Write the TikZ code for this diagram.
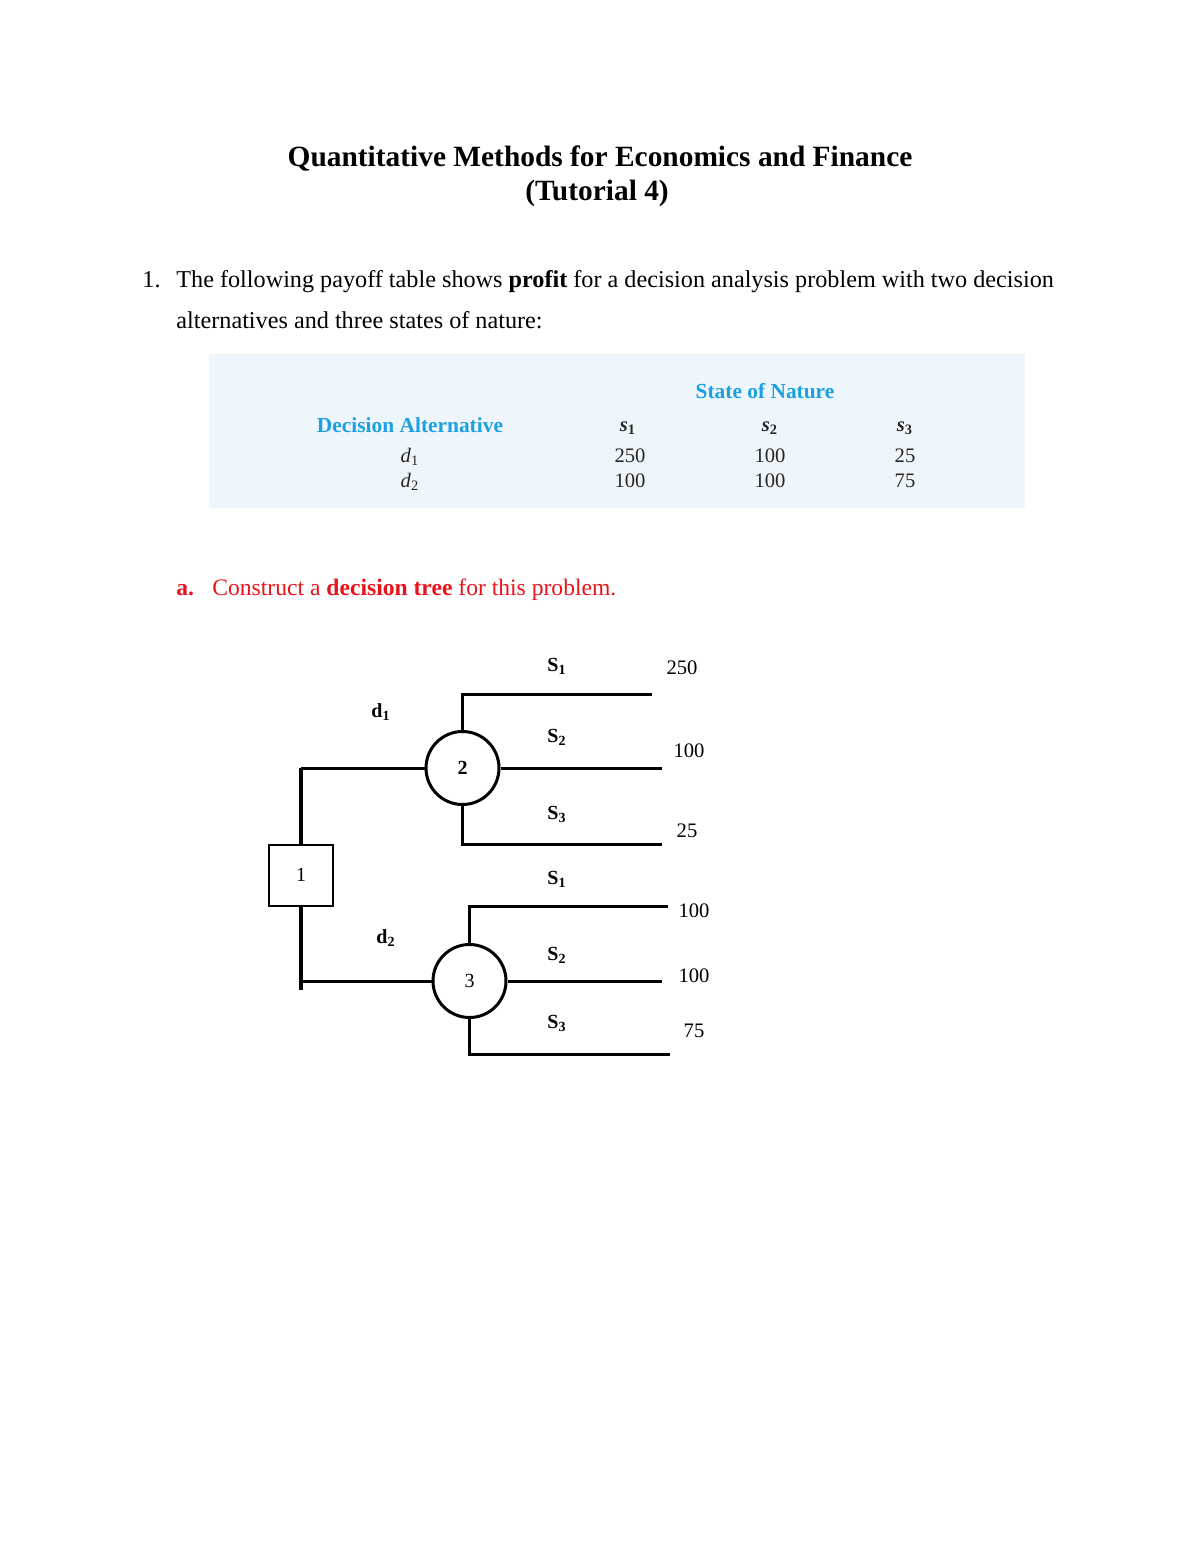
\documentclass[tikz,border=0pt]{standalone}
\usepackage{fontspec}
\setmainfont{Liberation Serif}
\definecolor{tblbg}{HTML}{EEF6FC}
\definecolor{tblblue}{HTML}{1BA1E2}
\definecolor{redtxt}{HTML}{E8141B}
\begin{document}
\begin{tikzpicture}[x=0.5pt,y=-0.5pt,
  title/.style={font=\fontsize{14.7}{17}\selectfont\bfseries},
  body/.style={font=\fontsize{12.1}{14}\selectfont, anchor=base west, inner sep=0pt},
  thead/.style={font=\fontsize{10.7}{12}\selectfont\bfseries, text=tblblue},
  tcell/.style={font=\fontsize{10.3}{12}\selectfont, text=black!85},
  tl/.style={line width=1.5pt},
  lab/.style={font=\fontsize{10}{12}\selectfont\bfseries},
  val/.style={font=\fontsize{10.3}{12}\selectfont},
  chance/.style={circle, draw, line width=1.5pt, minimum size=36.5pt, inner sep=0pt, font=\fontsize{10}{12}\selectfont},
  decbox/.style={rectangle, draw, line width=1pt, minimum width=32pt, minimum height=30.5pt, inner sep=0pt, font=\fontsize{10}{12}\selectfont}
]
\path[use as bounding box, fill=white] (0,0) rectangle (1200,1553);
% title
\node[title] (t1) at (600,159) {Quantitative Methods for Economics and Finance};
\node[title] (t2) at (597,193) {(Tutorial 4)};
% body
\node[body] (q1n) at (142,287) {1.};
\node[body] (q1a) at (176,287) {The following payoff table shows \textbf{profit} for a decision analysis problem with two decision};
\node[body] (q1b) at (176,328) {alternatives and three states of nature:};
% table
\fill[tblbg] (209,354) rectangle (1025,508);
\node[thead] (son) at (765,391) {State of Nature};
\node[thead] (da) at (410,425) {Decision Alternative};
\node[tcell] (hs1) at (628,428) {\textbf{\textit{s}}\textsubscript{\textbf{1}}};
\node[tcell] (hs2) at (770,428) {\textbf{\textit{s}}\textsubscript{\textbf{2}}};
\node[tcell] (hs3) at (905,428) {\textbf{\textit{s}}\textsubscript{\textbf{3}}};
\node[tcell] (rd1) at (410,457) {\textit{d}\textsubscript{1}};
\node[tcell] (rd2) at (410,482) {\textit{d}\textsubscript{2}};
\node[tcell] (v11) at (630,456) {250};
\node[tcell] (v12) at (770,456) {100};
\node[tcell] (v13) at (905,456) {25};
\node[tcell] (v21) at (630,481) {100};
\node[tcell] (v22) at (770,481) {100};
\node[tcell] (v23) at (905,481) {75};
% part a
\node[body, text=redtxt, font=\fontsize{11.8}{14}\selectfont\bfseries] (pa) at (176,595) {a.};
\node[body, text=redtxt, font=\fontsize{11.8}{14}\selectfont] (pat) at (212,595) {Construct a \textbf{decision tree} for this problem.};
% tree nodes
\node[decbox] (n1) at (301,875) {1};
\node[chance] (n2) at (462.5,768) {\textbf{2}};
\node[chance] (n3) at (469.5,981) {3};
\coordinate (top1) at (301,768);
\coordinate (bot1) at (301,990);
\coordinate (e21) at (652,694);
\coordinate (e22) at (662,768);
\coordinate (e23) at (662,844);
\coordinate (e31) at (668,906);
\coordinate (e32) at (662,981);
\coordinate (e33) at (670,1054);
% connectors
\draw[line width=2pt] (n1.north) -- (top1);
\draw[tl] (top1) -- (n2.west);
\draw[line width=2pt] (n1.south) -- (bot1);
\draw[tl] (n3.west -| bot1) -- (n3.west);
\draw[tl] (n2.north) |- (e21);
\draw[tl] (n2.east) -- (e22);
\draw[tl] (n2.south) |- (e23);
\draw[tl] (n3.north) |- (e31);
\draw[tl] (n3.east) -- (e32);
\draw[tl] (n3.south) |- (e33);
% labels
\node[lab] (ld1) at (381,712) {d\textsubscript{1}};
\node[lab] (ld2) at (386,938) {d\textsubscript{2}};
\node[lab] (l21) at (557,666) {S\textsubscript{1}};
\node[lab] (l22) at (557,737) {S\textsubscript{2}};
\node[lab] (l23) at (557,814) {S\textsubscript{3}};
\node[lab] (l31) at (557,879) {S\textsubscript{1}};
\node[lab] (l32) at (557,955) {S\textsubscript{2}};
\node[lab] (l33) at (557,1023) {S\textsubscript{3}};
\node[val] (p21) at (682,668) {250};
\node[val] (p22) at (689,751) {100};
\node[val] (p23) at (687,831) {25};
\node[val] (p31) at (694,911) {100};
\node[val] (p32) at (694,976) {100};
\node[val] (p33) at (694,1031) {75};
\end{tikzpicture}
\end{document}
